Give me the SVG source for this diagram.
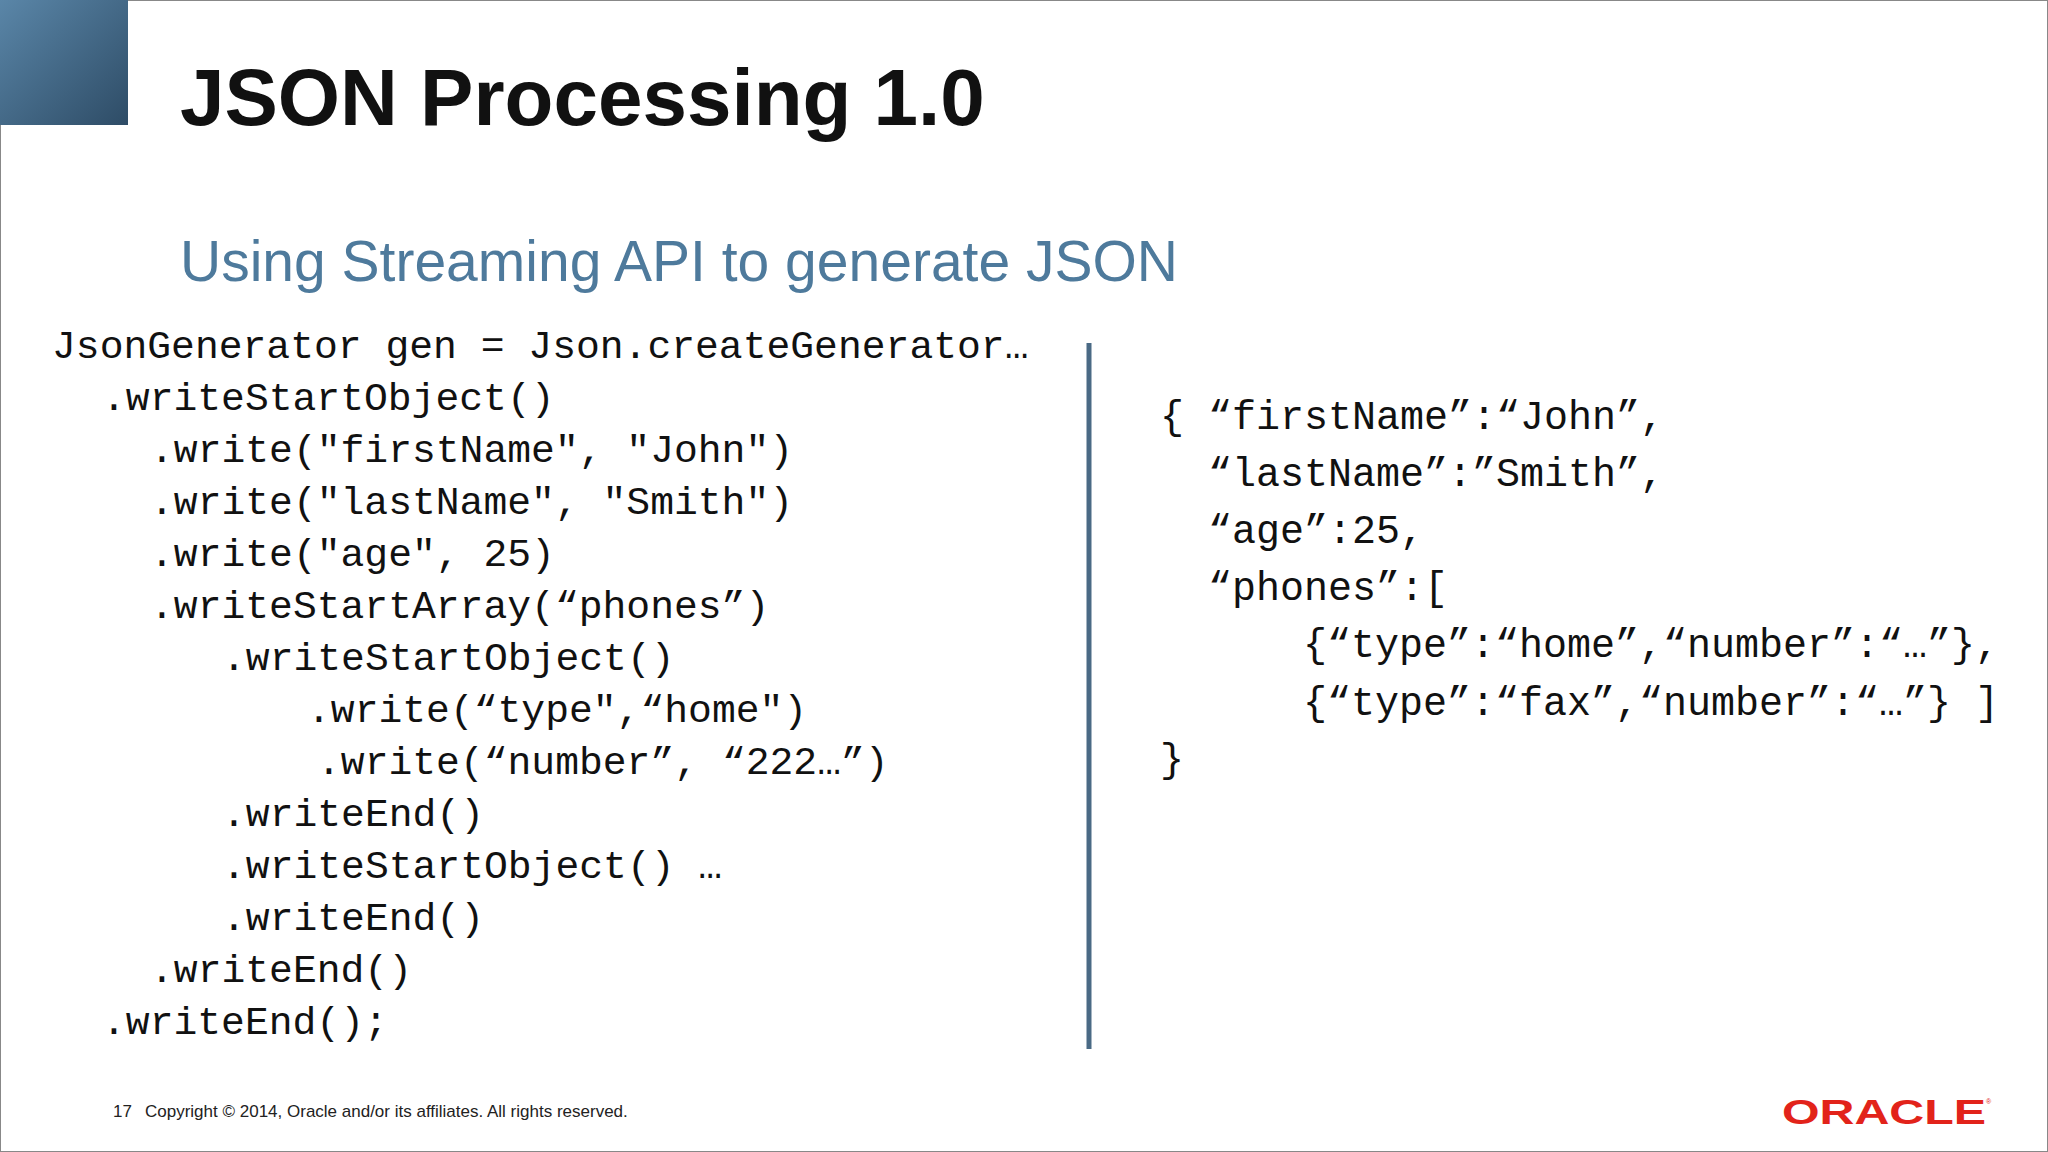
<svg xmlns="http://www.w3.org/2000/svg" width="2048" height="1152" viewBox="0 0 2048 1152">
<defs>
<linearGradient id="sq" x1="0" y1="0" x2="1" y2="1"><stop offset="0" stop-color="#5a86a8"/><stop offset="1" stop-color="#2e4c66"/></linearGradient>
<style>
.code{font-family:"Liberation Mono","DejaVu Sans Mono",monospace;font-size:39.7px;fill:#111;white-space:pre}
.json{font-family:"Liberation Mono","DejaVu Sans Mono",monospace;font-size:40px;fill:#111;white-space:pre}
.sans{font-family:"Liberation Sans",Arial,sans-serif}
</style>
</defs>
<rect x="0" y="0" width="2048" height="1152" fill="#fff" stroke="#888" stroke-width="2"/>
<rect x="0" y="0" width="128" height="125" fill="url(#sq)"/>
<text class="sans" x="180" y="125" font-size="80" font-weight="bold" fill="#111">JSON Processing 1.0</text>
<text class="sans" x="180" y="281" font-size="57" fill="#4e7a9c">Using Streaming API to generate JSON</text>
<g id="code">
<text class="code" x="52" y="358">JsonGenerator gen = Json.createGenerator…</text>
<text class="code" x="102" y="410">.writeStartObject()</text>
<text class="code" x="150" y="462">.write("firstName", "John")</text>
<text class="code" x="150" y="514">.write("lastName", "Smith")</text>
<text class="code" x="150" y="566">.write("age", 25)</text>
<text class="code" x="150" y="618">.writeStartArray(“phones”)</text>
<text class="code" x="222" y="670">.writeStartObject()</text>
<text class="code" x="307" y="722">.write(“type",“home")</text>
<text class="code" x="317" y="774">.write(“number”, “222…”)</text>
<text class="code" x="222" y="826">.writeEnd()</text>
<text class="code" x="222" y="878">.writeStartObject() …</text>
<text class="code" x="222" y="930">.writeEnd()</text>
<text class="code" x="150" y="982">.writeEnd()</text>
<text class="code" x="102" y="1034">.writeEnd();</text>
</g>
<line x1="1089" y1="343" x2="1089" y2="1049" stroke="#4a6a85" stroke-width="5"/>
<g id="json">
<text class="json" x="1160" y="429">{ “firstName”:“John”,</text>
<text class="json" x="1208" y="486">“lastName”:”Smith”,</text>
<text class="json" x="1208" y="543">“age”:25,</text>
<text class="json" x="1208" y="600">“phones”:[</text>
<text class="json" x="1303" y="657">{“type”:“home”,“number”:“…”},</text>
<text class="json" x="1303" y="715">{“type”:“fax”,“number”:“…”} ]</text>
<text class="json" x="1160" y="772">}</text>
</g>
<text class="sans" x="113" y="1117" font-size="17" fill="#222">17</text>
<text class="sans" x="145" y="1117" font-size="17" fill="#222">Copyright © 2014, Oracle and/or its affiliates. All rights reserved.</text>
<text class="sans" x="1782" y="1124" font-size="35" font-weight="bold" fill="#e2231a" textLength="204" lengthAdjust="spacingAndGlyphs">ORACLE</text>
<text class="sans" x="1986" y="1104" font-size="7" fill="#e2231a">®</text>
</svg>
